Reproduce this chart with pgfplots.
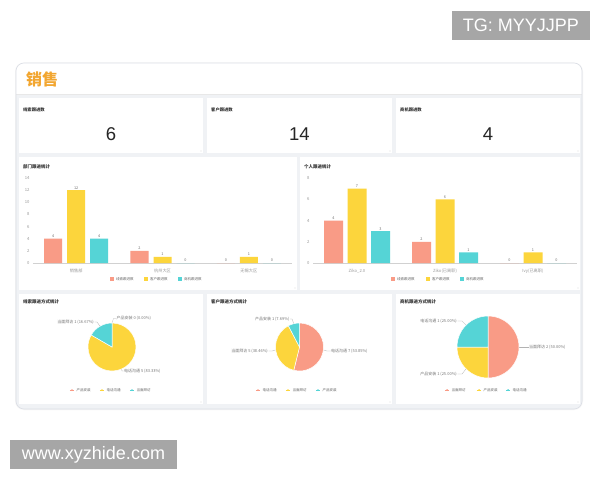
\documentclass[border=0pt]{standalone}
\usepackage{pgfplots}
\pgfplotsset{compat=1.18}
\usepackage{fontspec}
\setmainfont{Noto Sans CJK SC}
\newfontfamily\lat{Liberation Sans}

\definecolor{cA}{HTML}{F99B86}
\definecolor{cB}{HTML}{FCD53C}
\definecolor{cC}{HTML}{55D4D6}
\definecolor{bg}{HTML}{F0F2F5}
\definecolor{brd}{HTML}{DCDFE6}
\definecolor{hdr}{HTML}{F2A630}
\definecolor{ttl}{HTML}{333333}
\definecolor{tk}{HTML}{999999}
\definecolor{lbl}{HTML}{777777}
\definecolor{wm}{HTML}{A6A6A6}

\newcommand\fs[1]{\fontsize{#1bp}{#1bp}\selectfont}

% pie: #1 radius (bp = data units), #2 list value/colour, clockwise from top
\newcommand\drawpie[2]{%
  \gdef\pietot{0}%
  \foreach \v/\c in {#2}{\pgfmathparse{\pietot+\v}\xdef\pietot{\pgfmathresult}}%
  \gdef\pieang{90}%
  \foreach \v/\c in {#2}{%
    \pgfmathsetmacro\pieend{\pieang-360*\v/\pietot}%
    \ifdim\v pt>0pt
      \fill[\c, draw=white, line width=0.5bp] (axis cs:0,0)
        -- (axis cs:{#1*cos(\pieang)},{#1*sin(\pieang)})
        arc[start angle=\pieang, end angle=\pieend, radius=#1bp] -- cycle;
    \fi
    \xdef\pieang{\pieend}}}

\pgfplotsset{
  barchart/.style={scale only axis, anchor=south west,
    xmin=-0.5, xmax=2.5, ymin=0, xtick={0,1,2},
    axis x line*=bottom, axis y line*=left, y axis line style={draw=none},
    x axis line style={draw=black!18, line width=0.4bp},
    major tick length=0pt,
    tick label style={font=\fs{4.2}, text=tk},
    xticklabel style={yshift=-2.5bp},
    /pgf/number format/assume math mode=true,
    nodes near coords,
    every node near coord/.append style={font=\fs{3.8}, text=black!55, inner sep=0.8bp},
    every axis plot/.append style={draw=none},
    clip=false},
  pie/.style={anchor=center, hide axis, x=1bp, y=1bp,
    xmin=-#1, xmax=#1, ymin=-#1, ymax=#1, clip=false},
}

\begin{document}
\begin{tikzpicture}
\begin{scope}[x=1bp,y=-1bp]
\fill[white] (0,0) rectangle (600,480);
% panel
\fill[black!4, rounded corners=9bp] (15,62.5) rectangle (583,410);
\fill[bg, rounded corners=8bp] (16,63) rectangle (582,409);
\fill[white, rounded corners=8bp] (16,63) rectangle (582,110);
\fill[bg] (16.4,94) rectangle (581.6,120);
\draw[black!9, line width=0.5bp] (16.4,94) -- (581.6,94);
\draw[brd, line width=0.6bp, rounded corners=8bp] (16,63) rectangle (582,409);
\node[anchor=west, text=hdr, font=\fs{16}\bfseries, inner sep=0] at (26,79) {销售};
% cards
\foreach \a/\b/\c/\d in {19/98/203/153, 207/98/392/153, 396/98/580/153,
    19/157/297/290, 300/157/580/290, 19/294/203/404, 207/294/392/404, 396/294/580/404}{
  \fill[white] (\a,\b) rectangle (\c,\d);
  \fill[black!35] (\c-2,\d-2) circle (0.45);
}
% KPI
\foreach \x/\cx/\t/\n in {23/111/线索跟进数/6, 211/299.5/客户跟进数/14, 400/488/商机跟进数/4}{
  \node[anchor=west, font=\fs{4.3}\bfseries, text=ttl, inner sep=0] at (\x,110) {\t};
  \node[font=\lat\fs{18.5}, text=black!85, inner sep=0] at (\cx,134.5) {\n};
}
% card titles
\node[anchor=west, font=\fs{4.5}\bfseries, text=ttl, inner sep=0] at (23,167) {部门跟进统计};
\node[anchor=west, font=\fs{4.5}\bfseries, text=ttl, inner sep=0] at (304,167) {个人跟进统计};
\node[anchor=west, font=\fs{4.5}\bfseries, text=ttl, inner sep=0] at (23,302) {线索跟进方式统计};
\node[anchor=west, font=\fs{4.5}\bfseries, text=ttl, inner sep=0] at (211,302) {客户跟进方式统计};
\node[anchor=west, font=\fs{4.5}\bfseries, text=ttl, inner sep=0] at (400,302) {商机跟进方式统计};
% bar legends
\foreach \x/\c/\t in {112/cA/线索跟进数, 146/cB/客户跟进数, 180/cC/商机跟进数,
                      393/cA/线索跟进数, 428/cB/客户跟进数, 462/cC/商机跟进数}{
  \fill[\c] (\x-2,277) rectangle (\x+2,281);
  \node[anchor=west, font=\fs{3.5}, text=black!60, inner sep=0] at (\x+4,279) {\t};
}
% pie legends
\foreach \x/\c/\t in {72/cA/产品安装, 102/cB/电话沟通, 132/cC/当面拜访,
                      258/cA/电话沟通, 288/cB/当面拜访, 318/cC/产品安装,
                      447/cA/当面拜访, 479/cB/产品安装, 508/cC/电话沟通}{
  \draw[\c, line width=0.5bp] (\x-2.2,390) -- (\x+2.2,390);
  \fill[\c] (\x,390) circle (1);
  \node[anchor=west, font=\fs{3.5}, text=black!60, inner sep=0] at (\x+4.5,390) {\t};
}
% pie labels and leader lines
\tikzset{pl/.style={font=\fs{4}, text=lbl, inner sep=0.5bp}, ll/.style={draw=black!30, line width=0.3bp}}
\draw[ll] (112,323) -- (113.5,318.5) -- (116,318.5);
\node[pl, anchor=west] at (116,318.5) {产品安装 0 (0.00\%)};
\draw[ll] (100,326.2) -- (97,322) -- (94.5,322);
\node[pl, anchor=east] at (94.5,322) {当面拜访 1 (16.67\%)};
\draw[ll] (121,366) -- (122,371) -- (123.5,371);
\node[pl, anchor=west] at (123.5,371) {电话沟通 5 (83.33\%)};
\draw[ll] (293.8,323.7) -- (292,319) -- (290,319);
\node[pl, anchor=east] at (290,319) {产品安装 1 (7.69\%)};
\draw[ll] (275.7,349.9) -- (272,351) -- (268.5,351);
\node[pl, anchor=east] at (268.5,351) {当面拜访 5 (38.46\%)};
\draw[ll] (323.3,349.9) -- (327,351) -- (330.5,351);
\node[pl, anchor=west] at (330.5,351) {电话沟通 7 (53.85\%)};
\draw[ll] (466,325) -- (462,321) -- (457.5,321);
\node[pl, anchor=east] at (457.5,321) {电话沟通 1 (25.00\%)};
\draw[ll] (466,369) -- (462,374) -- (457.5,374);
\node[pl, anchor=east] at (457.5,374) {产品安装 1 (25.00\%)};
\draw[ll] (519,347) -- (528.5,347);
\node[pl, anchor=west] at (528.5,347) {当面拜访 2 (50.00\%)};
% watermarks
\fill[wm] (452,11) rectangle (590,40);
\node[font=\lat\fs{18}, text=white] at (521,25.5) {TG: MYYJJPP};
\fill[wm] (10,440) rectangle (177,469);
\node[font=\lat\fs{18}, text=white] at (93.5,454.5) {www.xyzhide.com};
\end{scope}

% department bars
\begin{axis}[barchart, at={(33bp,-263bp)}, width=259bp, height=85bp,
  ymax=14, ytick={0,2,...,14}, ybar=5bp, bar width=18bp,
  xticklabels={销售部,杭州大区,无锡大区}]
\addplot[fill=cA] coordinates {(0,4) (1,2) (2,0)};
\addplot[fill=cB] coordinates {(0,12) (1,1) (2,1)};
\addplot[fill=cC] coordinates {(0,4) (1,0) (2,0)};
\end{axis}

% personal bars
\begin{axis}[barchart, at={(313bp,-263bp)}, width=264bp, height=85bp,
  ymax=8, ytick={0,2,...,8}, ybar=4.5bp, bar width=19bp,
  xticklabels={Ziko\_2.0,Ziko(已离职),Ivy(已离职)}]
\addplot[fill=cA] coordinates {(0,4) (1,2) (2,0)};
\addplot[fill=cB] coordinates {(0,7) (1,6) (2,1)};
\addplot[fill=cC] coordinates {(0,3) (1,1) (2,0)};
\end{axis}

% pies
\begin{axis}[pie=24, at={(112bp,-347bp)}]
\pgfplotsextra{\drawpie{24}{0/cA, 5/cB, 1/cC}}
\end{axis}
\begin{axis}[pie=24, at={(299.5bp,-347bp)}]
\pgfplotsextra{\drawpie{24}{7/cA, 5/cB, 1/cC}}
\end{axis}
\begin{axis}[pie=31, at={(488bp,-347bp)}]
\pgfplotsextra{\drawpie{31}{2/cA, 1/cB, 1/cC}}
\end{axis}

\pgfresetboundingbox
\useasboundingbox (0bp,0bp) rectangle (600bp,-480bp);
\end{tikzpicture}
\end{document}
